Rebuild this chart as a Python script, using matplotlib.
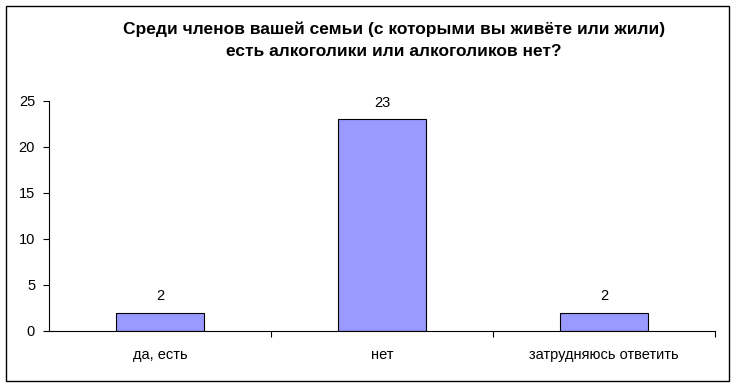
import matplotlib.pyplot as plt
import matplotlib.patches as mpatches
import numpy as np

categories = ["да, есть", "нет", "затрудняюсь ответить"]
values = [2, 23, 2]
title = "Среди членов вашей семьи (с которыми вы живёте или жили)\nесть алкоголики или алкоголиков нет?"

plt.rcParams["font.family"] = ["Liberation Sans", "DejaVu Sans"]

fig = plt.figure(figsize=(7.36, 3.87), dpi=100)
ax = fig.add_axes([49 / 736, 1 - 331 / 387, 666 / 736, 230 / 387])

x = np.arange(len(categories))
bars = ax.bar(x, values, width=0.4, color="#9999ff", edgecolor="black", linewidth=0.8)
for xi, v in zip(x, values):
    ax.annotate(str(v), (xi, v), xytext=(0, 7), textcoords="offset points",
                ha="center", va="bottom", fontsize=10.5)

ax.set_xlim(-0.5, len(categories) - 0.5)
ax.set_ylim(0, 25)
ax.set_yticks(np.arange(0, 26, 5))
ax.set_xticks(x)
ax.set_xticklabels(categories, fontsize=10.5)
ax.set_xticks(np.arange(0.5, len(categories), 1), minor=True)
ax.tick_params(axis="x", which="major", length=0, pad=12)
ax.tick_params(axis="x", which="minor", length=4, direction="out", width=0.8)
ax.tick_params(axis="y", length=4, direction="out", width=0.8, labelsize=10.5, pad=6)
for s in ["top", "right"]:
    ax.spines[s].set_visible(False)
for s in ["left", "bottom"]:
    ax.spines[s].set_linewidth(0.8)

fig.text(394 / 736, 1 - 40 / 387, title, ha="center", va="center",
         fontsize=12.5, fontweight="bold", linespacing=1.6)

fig.patches.append(mpatches.Rectangle((6 / 736, 6 / 387), 723 / 736, 375 / 387,
                                      transform=fig.transFigure, fill=False,
                                      edgecolor="black", linewidth=1.0))

fig.savefig("out.png", dpi=100)
